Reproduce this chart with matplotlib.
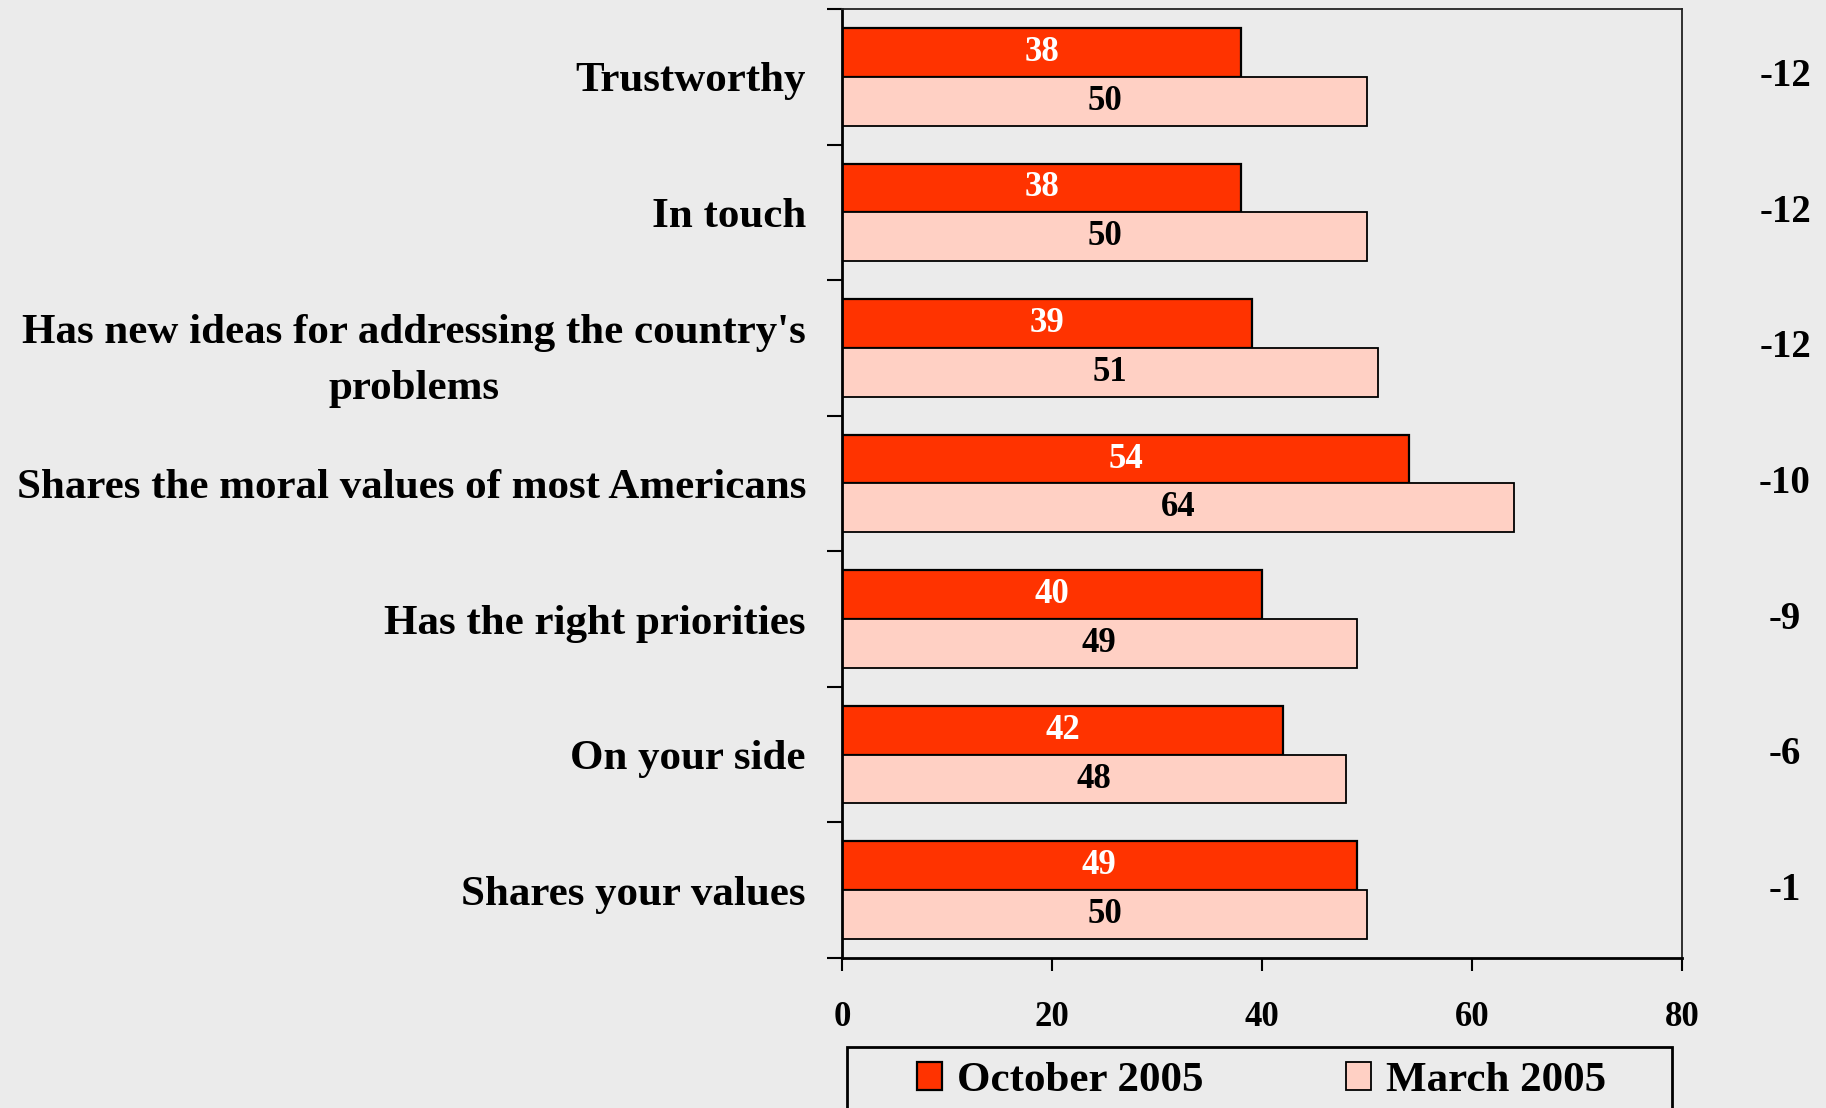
import matplotlib.pyplot as plt
import matplotlib.transforms as mtransforms
from matplotlib.patches import Rectangle
import numpy as np

# data, top to bottom
categories = [
    'Trustworthy',
    'In touch',
    "Has new ideas for addressing the country's\nproblems",
    'Shares the moral values of most Americans',
    'Has the right priorities',
    'On your side',
    'Shares your values',
]
october_2005 = [38, 38, 39, 54, 40, 42, 49]
march_2005 = [50, 50, 51, 64, 49, 48, 50]
change = ['-12', '-12', '-12', '-10', '-9', '-6', '-1']
x_ticks = [0, 20, 40, 60, 80]

bg = '#ebebeb'
oct_color = '#ff3300'
mar_color = '#ffd0c4'

plt.rcParams['font.family'] = ['Liberation Serif', 'DejaVu Serif']
plt.rcParams['font.weight'] = 'bold'

fig = plt.figure(figsize=(18.26, 11.08), dpi=100, facecolor=bg)
W, H = 1826, 1108
ax = fig.add_axes([842 / W, 1 - 958 / H, (1682 - 842) / W, (958 - 9) / H])
ax.set_facecolor(bg)

y = np.arange(len(categories))
h = 0.36
b1 = ax.barh(y - h / 2, october_2005, height=h, color=oct_color, edgecolor='black', linewidth=1.6,
             label='October 2005')
b2 = ax.barh(y + h / 2, march_2005, height=h, color=mar_color, edgecolor='black', linewidth=1.3,
             label='March 2005')

# values in the middle of the bars
for rect, v in zip(b1, october_2005):
    ax.text(v / 2, rect.get_y() + rect.get_height() / 2, str(v), ha='center', va='center',
            color='white', fontsize=25, fontweight='bold')
for rect, v in zip(b2, march_2005):
    ax.text(v / 2, rect.get_y() + rect.get_height() / 2, str(v), ha='center', va='center',
            color='black', fontsize=25, fontweight='bold')

# change column on the right
trans = mtransforms.blended_transform_factory(fig.transFigure, ax.transData)
for yi, c in zip(y, change):
    ax.text(1785 / W, yi, c, transform=trans, ha='center', va='center', fontsize=28, fontweight='bold')

ax.set_xlim(0, 80)
ax.set_ylim(len(categories) - 0.5, -0.5)
ax.set_xticks(x_ticks)
ax.tick_params(axis='x', direction='out', length=9, width=1.5, pad=22, labelsize=25)

# ticks at the boundaries, labels at centres
ax.set_yticks(np.arange(len(categories) + 1) - 0.5)
ax.set_yticklabels([])
ax.set_yticks(y, minor=True)
ax.set_yticklabels(categories, minor=True, fontsize=31, fontweight='bold', multialignment='center',
                   linespacing=1.6)
ax.tick_params(axis='y', which='major', direction='out', length=11, width=1.5)
ax.tick_params(axis='y', which='minor', length=0, pad=26)

for s in ['left', 'bottom']:
    ax.spines[s].set_linewidth(2)
for s in ['top', 'right']:
    ax.spines[s].set_linewidth(1.3)
    ax.spines[s].set_color('#222222')

# legend frame runs off the bottom edge
fig.patches.append(Rectangle((847 / W, -20 / H), (1672 - 847) / W, (20 + 1108 - 1047) / H,
                             transform=fig.transFigure, fill=False, edgecolor='black', linewidth=2))
leg = fig.legend(handles=[b1, b2], loc='center left', bbox_to_anchor=(917 / W, 1 - 1081 / H),
                 ncol=2, fontsize=31, frameon=False, handlelength=0.58, handleheight=0.63,
                 handletextpad=0.35, columnspacing=3.3, borderpad=0, borderaxespad=0)
for t in leg.get_texts():
    t.set_fontweight('bold')

fig.savefig('out.png', dpi=100, facecolor=bg)
